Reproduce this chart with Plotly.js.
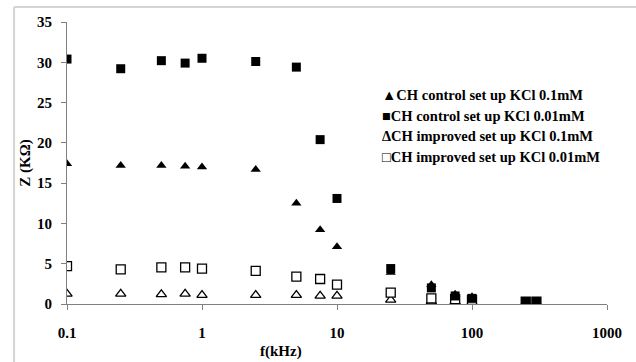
<!DOCTYPE html>
<html>
<head>
<meta charset="utf-8">
<script src="https://cdn.plot.ly/plotly-3.0.1.min.js"></script>
<style>html,body{margin:0;padding:0;background:#fff;}#chart{width:636px;height:362px;}</style>
</head>
<body>
<div id="chart"></div>
<script>
// frequencies in kHz
const freq = [0.1, 0.25, 0.5, 0.75, 1, 2.5, 5, 7.5, 10, 25, 50, 75, 100, 250, 300];
// impedance Z in kOhm
const controlKCl01  = [17.4, 17.2, 17.2, 17.1, 17.0, 16.7, 12.5, 9.2, 7.1, 3.9, 2.4, 1.2, 0.9, 0.3, 0.3];
const controlKCl001 = [30.4, 29.2, 30.2, 29.9, 30.5, 30.1, 29.4, 20.4, 13.1, 4.4, 2.0, 1.0, 0.7, 0.3, 0.3];
const improvedKCl01 = [1.25, 1.25, 1.2, 1.25, 1.1, 1.1, 1.1, 1.0, 1.0, 0.5, 0.3, 0.3, 0.2, 0.1, 0.1];
const improvedKCl001= [4.7, 4.3, 4.55, 4.55, 4.4, 4.1, 3.4, 3.1, 2.4, 1.4, 0.7, 0.6, 0.5, 0.3, 0.3];
const seriesNames = [
  "CH control set up KCl 0.1mM",
  "CH control set up KCl 0.01mM",
  "CH improved set up KCl 0.1mM",
  "CH improved set up KCl 0.01mM"
];
const legendGlyphs = ["\u25B2", "\u25A0", "\u0394", "\u25A1"];
const xTickVals = [0.1, 1, 10, 100, 1000];
const xTickText = ["0.1", "1", "10", "100", "1000"];

const serif = "Liberation Serif, Times New Roman, serif";

function tr(y, name, symbol, filled) {
  return {
    x: freq, y: y, name: name, type: "scatter", mode: "markers",
    showlegend: false,
    marker: filled
      ? {symbol: symbol, size: 9, color: "#000", line: {width: 0}}
      : {symbol: symbol, size: 9, color: "#fff", line: {color: "#000", width: 1.3}}
  };
}

const data = [
  tr(improvedKCl01, seriesNames[2], "triangle-up", false),
  tr(improvedKCl001, seriesNames[3], "square", false),
  tr(controlKCl01, seriesNames[0], "triangle-up", true),
  tr(controlKCl001, seriesNames[1], "square", true)
];

const legendY = [0.741, 0.668, 0.594, 0.520];
const annotations = seriesNames.map((n, i) => ({
  xref: "paper", yref: "paper", x: 0.58, y: legendY[i],
  xanchor: "left", yanchor: "middle", showarrow: false,
  text: "<b>" + legendGlyphs[i] + n + "</b>",
  font: {family: serif, size: 14.5, color: "#000"}
}));
annotations.push({
  xref: "paper", yref: "paper", x: 0.396, y: -0.168,
  xanchor: "center", yanchor: "middle", showarrow: false,
  text: "<b>f(kHz)</b>", font: {family: serif, size: 15, color: "#000"}
});

const layout = {
  width: 636, height: 362,
  margin: {l: 67, r: 29, t: 22, b: 58},
  paper_bgcolor: "#fff", plot_bgcolor: "#fff",
  showlegend: false,
  font: {family: serif, size: 15, color: "#000", weight: "bold"},
  xaxis: {
    type: "log", range: [-1, 3],
    tickmode: "array", tickvals: xTickVals, ticktext: xTickText,
    showgrid: false, zeroline: false,
    showline: true, linecolor: "#808080", linewidth: 1,
    ticks: "outside", ticklen: 5, tickcolor: "#808080",
    ticklabelstandoff: 10,
    tickfont: {family: serif, size: 15, color: "#000", weight: "bold"}
  },
  yaxis: {
    range: [0, 35], dtick: 5, tick0: 0,
    showgrid: false, zeroline: false,
    showline: true, linecolor: "#808080", linewidth: 1,
    ticks: "outside", ticklen: 5, tickcolor: "#808080",
    ticklabelstandoff: 6,
    tickfont: {family: serif, size: 15, color: "#000", weight: "bold"},
    title: {text: "<b>Z (K\u03A9)</b>", font: {family: serif, size: 15, color: "#000"}, standoff: 2}
  },
  annotations: annotations,
  shapes: [
    {type: "line", xref: "paper", yref: "paper", x0: -0.098, x1: 1.06, y0: 1.053, y1: 1.053,
     line: {color: "#d4d4d4", width: 2}},
    {type: "line", xref: "paper", yref: "paper", x0: -0.098, x1: -0.098, y0: 1.053, y1: -0.21,
     line: {color: "#d4d4d4", width: 2}}
  ]
};

Plotly.newPlot("chart", data, layout, {displayModeBar: false, staticPlot: true});
</script>
</body>
</html>
